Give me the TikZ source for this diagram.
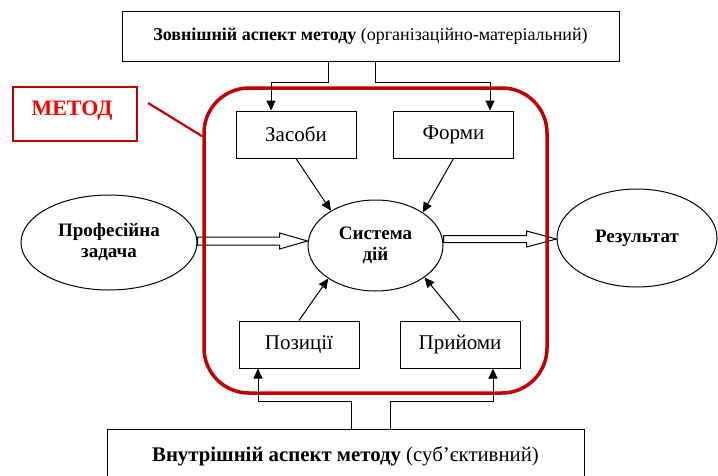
\documentclass[tikz,border=0pt]{standalone}
\usepackage{fontspec}
\setmainfont{Liberation Serif}
\usetikzlibrary{arrows.meta,shapes.geometric,calc}
\definecolor{dred}{RGB}{192,0,0}
\begin{document}
\begin{tikzpicture}[x=1pt,y=-1pt,
 box/.style={draw,line width=1pt,minimum width=120pt,minimum height=47pt,inner sep=0pt,font=\fontsize{21}{24}\selectfont},
 ell/.style={draw,line width=1pt,ellipse,inner sep=0pt,align=center,font=\fontsize{19}{21}\selectfont\bfseries},
 arr/.style={line width=1pt,-{Triangle[length=10pt,width=9pt]}},
 hollow/.style={draw,line width=1pt,fill=white},
 aspect/.style={draw,line width=1pt,inner sep=0pt}]
\useasboundingbox (0,0) rectangle (718,475);
\clip (0,0) rectangle (718,475);
% aspect boxes
\node[aspect,minimum width=497pt,minimum height=50pt,font=\fontsize{18}{20}\selectfont] (tb) at (370.5,36) {\textbf{Зовнішній аспект методу} (організаційно-матеріальний)};
\node[aspect,minimum width=477pt,minimum height=54pt,font=\fontsize{20.8}{22}\selectfont] (bb) at (345.5,456) {\textbf{Внутрішній аспект методу} (суб’єктивний)};
% METOD label
\node[draw=dred,line width=2.2pt,minimum width=124pt,minimum height=54pt,inner sep=0pt] (mb) at (75,114) {};
\node[text=red,font=\fontsize{22}{24}\selectfont\bfseries,inner sep=0pt] (mt) at (72,111) {МЕТОД};
% inner boxes
\node[box] (zs) at (296,134.5) {Засоби};
\node[box] (fm) at (453.5,134.5) {Форми};
\node[box] (pz) at (299,344.5) {Позиції};
\node[box] (pr) at (460,344.5) {Прийоми};
% ellipses
\node[ell,minimum width=176pt,minimum height=95pt] (pq) at (109,242.5) {Професійна\\задача};
\node[ell,minimum width=135pt,minimum height=91pt] (sd) at (375.5,245.5) {Система\\дій};
\node[ell,minimum width=160pt,minimum height=98pt] (rs) at (637,238) {Результат};
% hollow arrows
\draw[hollow] (pq.east |- 0,237) -- ($(sd.west |- 0,237)+(-28,0)$) -- ($(sd.west |- 0,233)+(-28,0)$) -- (sd.west |- 0,241) -- ($(sd.west |- 0,249)+(-28,0)$) -- ($(sd.west |- 0,245)+(-28,0)$) -- (pq.east |- 0,245) -- cycle;
\draw[hollow] (sd.east |- 0,235.5) -- ($(rs.west |- 0,235.5)+(-30,0)$) -- ($(rs.west |- 0,231)+(-30,0)$) -- (rs.west |- 0,239) -- ($(rs.west |- 0,247)+(-30,0)$) -- ($(rs.west |- 0,242.5)+(-30,0)$) -- (sd.east |- 0,242.5) -- cycle;
% red method frame
\node[draw=dred,line width=3.5pt,rounded corners=45pt,minimum width=343pt,minimum height=305pt,inner sep=0pt] (red) at (375.5,240.5) {};
\draw[dred,line width=2.2pt] ([shift={(10,-11)}]mb.east) -- ([yshift=-50pt]red.north west);
% connectors
\draw[arr] ([xshift=-42.5pt]tb.south) -- ++(0,21) -| ([xshift=-25pt]zs.north);
\draw[arr] ([xshift=4.5pt]tb.south) -- ++(0,21) -| ([xshift=36.5pt]fm.north);
\draw[arr] ([xshift=5.5pt]bb.north) -- ++(0,-27) -| ([xshift=-41pt]pz.south);
\draw[arr] ([xshift=44.5pt]bb.north) -- ++(0,-27) -| ([xshift=33pt]pr.south);
\draw[arr] (zs.south) -- (sd.142);
\draw[arr] (fm.south) -- (sd.35);
\draw[arr] (pz.north) -- (sd.215);
\draw[arr] (pr.north) -- (sd.327);
\end{tikzpicture}
\end{document}
